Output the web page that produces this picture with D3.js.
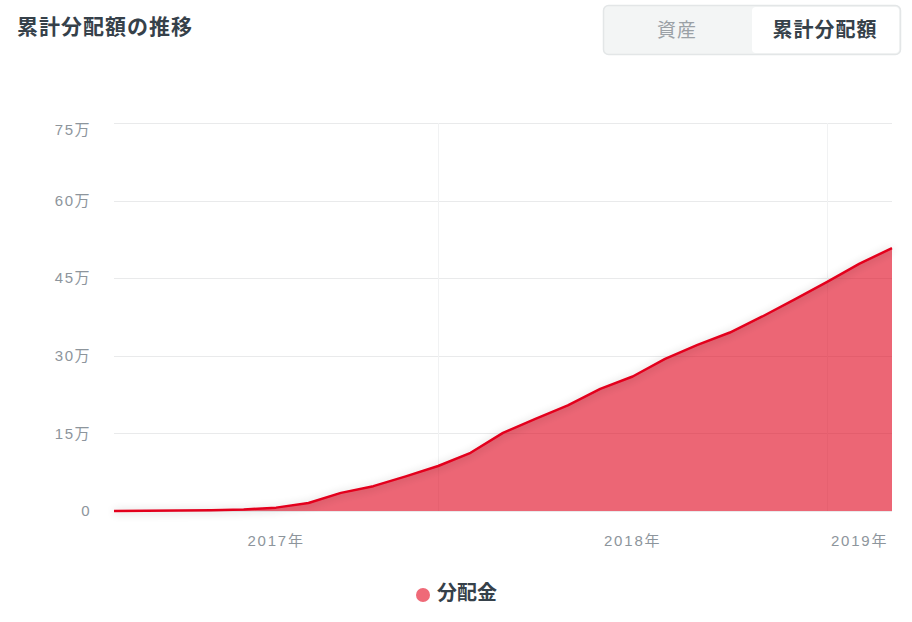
<!DOCTYPE html>
<html>
<head>
<meta charset="utf-8">
<script src="https://cdn.jsdelivr.net/npm/d3@7"></script>
<style>
  body { margin: 0; background: #fff; }
  svg { display: block; font-family: "Noto Sans CJK JP", "Liberation Sans", sans-serif; }
  .tick-label { font-family: "Liberation Sans", "Noto Sans CJK JP", sans-serif; }
</style>
</head>
<body>
<svg id="chart" width="912" height="622"></svg>
<script>
// monthly cumulative dividends (yen), Mar 2017 .. Mar 2019
const months = [
    "2017-03", "2017-04", "2017-05", "2017-06", "2017-07", "2017-08", "2017-09",
    "2017-10", "2017-11", "2017-12", "2018-01", "2018-02", "2018-03", "2018-04",
    "2018-05", "2018-06", "2018-07", "2018-08", "2018-09", "2018-10", "2018-11",
    "2018-12", "2019-01", "2019-02", "2019-03"
]
const dividends = [
    0, 500, 1000, 1500, 3000, 6500, 15500,
    35000, 48000, 67000, 87000, 112500, 151000, 178000,
    204000, 236000, 260000, 294000, 321000, 345000, 376000,
    409000, 443000, 478000, 508000
]
const yTicks = [0, 150000, 300000, 450000, 600000, 750000]
const years = [2017, 2018, 2019]

const seriesName = "分配金"
const title = "累計分配額の推移"
const toggleLabels = ["資産", "累計分配額"]

const layout = {
    left: 114,
    right: 892,
    top: 123,
    bottom: 511,
    lineColor: "#e3061f",
    fillColor: "#df0019",
    fillOpacity: 0.6,
    gridColor: "#e9eaeb",
    vGridColor: "#f1f2f3",
    labelColor: "#8d959c",
    textColor: "#36414a",
    legendDot: "#ef6a78"
}

const parse = d3.timeParse("%Y-%m")
const start = parse(months[0])
const end = parse(months[months.length - 1])
// position on the axis = months since the first point (evenly spaced months)
const monthIndex = d => d3.timeMonth.count(start, d)
const data = months.map((m, i) => ({ date: parse(m), value: dividends[i] }))

const svg = d3.select("#chart")

const x = d3.scaleLinear()
    .domain([0, monthIndex(end)])
    .range([layout.left, layout.right])

const y = d3.scaleLinear()
    .domain([0, d3.max(yTicks)])
    .range([layout.bottom, layout.top])

// soft shadow around the line
const defs = svg.append("defs")
const shadow = defs.append("filter").attr("id", "lineShadow")
    .attr("x", "-5%").attr("y", "-50%").attr("width", "110%").attr("height", "200%")
shadow.append("feGaussianBlur").attr("in", "SourceAlpha").attr("stdDeviation", 4)
shadow.append("feOffset").attr("dx", 0).attr("dy", 1).attr("result", "blur")
shadow.append("feComponentTransfer").append("feFuncA").attr("type", "linear").attr("slope", 0.25)
const merge = shadow.append("feMerge")
merge.append("feMergeNode")
merge.append("feMergeNode").attr("in", "SourceGraphic")

// title
svg.append("text")
    .attr("x", 17).attr("y", 34)
    .attr("font-size", 21).attr("font-weight", 700)
    .attr("letter-spacing", 1)
    .attr("fill", layout.textColor)
    .text(title)

// toggle
const tog = svg.append("g")
tog.append("rect")
    .attr("x", 603.5).attr("y", 5.5).attr("width", 297).attr("height", 49).attr("rx", 5)
    .attr("fill", "#f3f5f5").attr("stroke", "#e3e6e7").attr("stroke-width", 1.5)
tog.append("rect")
    .attr("x", 752).attr("y", 7).attr("width", 147).attr("height", 46).attr("rx", 4)
    .attr("fill", "#fff")
tog.append("text")
    .attr("x", 677).attr("y", 30).attr("dy", "0.35em").attr("text-anchor", "middle")
    .attr("font-size", 19).attr("letter-spacing", 1).attr("fill", "#9ba1a6")
    .text(toggleLabels[0])
tog.append("text")
    .attr("x", 825).attr("y", 30).attr("dy", "0.35em").attr("text-anchor", "middle")
    .attr("font-size", 20).attr("font-weight", 700).attr("letter-spacing", 1)
    .attr("fill", layout.textColor)
    .text(toggleLabels[1])

// horizontal grid + y labels
const grid = svg.append("g")
grid.selectAll("line.h")
    .data(yTicks)
    .join("line")
    .attr("class", "h")
    .attr("x1", layout.left).attr("x2", layout.right)
    .attr("y1", d => Math.round(y(d)) + 0.5).attr("y2", d => Math.round(y(d)) + 0.5)
    .attr("stroke", layout.gridColor)

svg.append("g").selectAll("text")
    .data(yTicks)
    .join("text")
    .attr("class", "tick-label")
    .attr("x", 91)
    .attr("y", d => Math.max(y(d), layout.top + 7))
    .attr("dy", "0.35em")
    .attr("text-anchor", "end")
    .attr("font-size", 15)
    .attr("letter-spacing", 1.5)
    .attr("fill", layout.labelColor)
    .text(d => d === 0 ? "0" : (d / 10000) + "万")

// vertical year boundaries
const yearStarts = years.map(yr => new Date(yr, 0, 1)).filter(d => d > start && d < end)
grid.selectAll("line.v")
    .data(yearStarts)
    .join("line")
    .attr("class", "v")
    .attr("x1", d => Math.round(x(monthIndex(d))) + 0.5)
    .attr("x2", d => Math.round(x(monthIndex(d))) + 0.5)
    .attr("y1", layout.top).attr("y2", layout.bottom)
    .attr("stroke", layout.vGridColor)

// year labels centred in their visible span
svg.append("g").selectAll("text")
    .data(years)
    .join("text")
    .attr("class", "tick-label")
    .attr("x", yr => {
        const a = d3.max([start, new Date(yr, 0, 1)])
        const b = d3.min([end, new Date(yr + 1, 0, 1)])
        return (x(monthIndex(a)) + x(monthIndex(b))) / 2
    })
    .attr("y", 541)
    .attr("dy", "0.35em")
    .attr("text-anchor", "middle")
    .attr("font-size", 15)
    .attr("letter-spacing", 1.8)
    .attr("fill", layout.labelColor)
    .text(yr => yr + "年")

// area + line
const area = d3.area()
    .x(d => x(monthIndex(d.date)))
    .y0(y(0))
    .y1(d => y(d.value))
const line = d3.line()
    .x(d => x(monthIndex(d.date)))
    .y(d => y(d.value))

svg.append("path")
    .datum(data)
    .attr("d", area)
    .attr("fill", layout.fillColor)
    .attr("fill-opacity", layout.fillOpacity)

svg.append("path")
    .datum(data)
    .attr("d", line)
    .attr("fill", "none")
    .attr("stroke", layout.lineColor)
    .attr("stroke-width", 2.5)
    .attr("stroke-linejoin", "round")
    .attr("filter", "url(#lineShadow)")

// legend
const legend = svg.append("g")
legend.append("circle")
    .attr("cx", 423).attr("cy", 595).attr("r", 7)
    .attr("fill", layout.legendDot)
legend.append("text")
    .attr("x", 437).attr("y", 593).attr("dy", "0.35em")
    .attr("font-size", 20).attr("font-weight", 700)
    .attr("fill", layout.textColor)
    .text(seriesName)
</script>
</body>
</html>
